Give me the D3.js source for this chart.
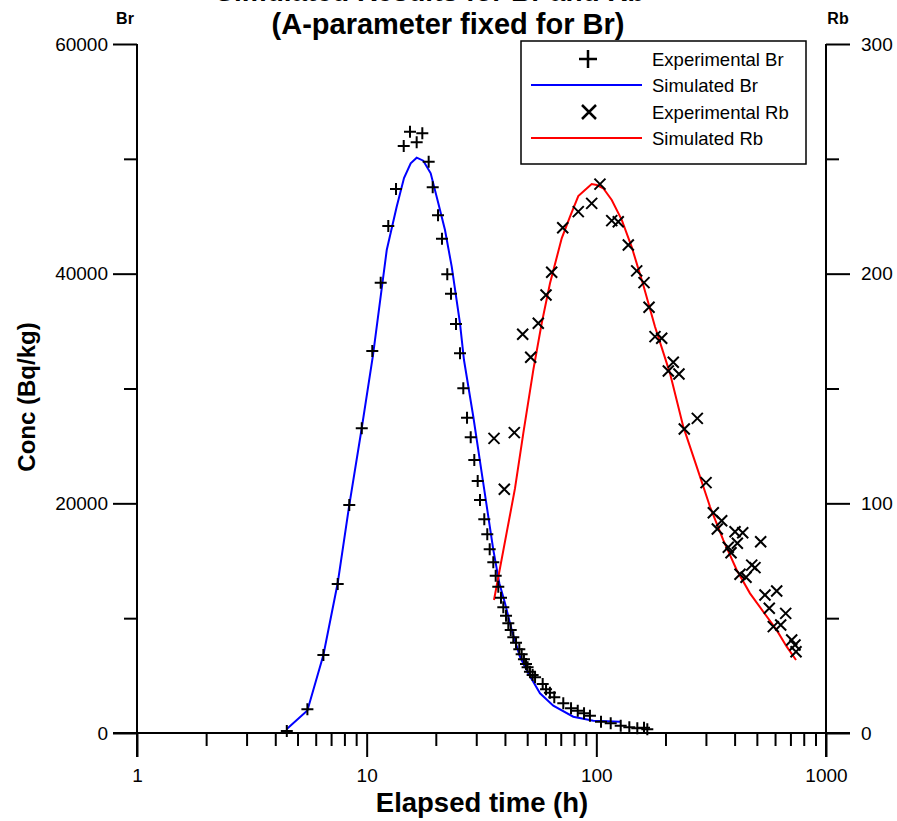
<!DOCTYPE html>
<html>
<head>
<meta charset="utf-8">
<script src="https://cdn.jsdelivr.net/npm/d3@7"></script>
<style>
  body { margin:0; background:#fff; }
  text { font-family: "Liberation Sans", Arial, sans-serif; }
</style>
</head>
<body>
<div id="chart"></div>
<script>
// experimental Br : time (h), conc (Bq/kg)
var brTime = [4.49,5.52,6.48,7.48,8.40,9.52,10.58,11.51,12.42,13.42,14.50,15.44,16.51,17.47,18.62,19.39,20.45,21.28,22.44,23.29,24.49,25.49,26.35,27.35,28.38,29.42,30.44,31.15,32.52,33.51,34.33,35.6,36.46,37.42,38.45,39.35,40.44,41.38,42.39,43.5,44.7,46.2,47.3,48.4,49.4,50.2,51.4,52.8,54.1,58.4,60.4,62.8,65.6,71.8,77.6,83.0,88.4,93.8,104.8,115.5,127.7,139.2,150.8,161.3,166.7];
var brConc = [170,2060,6790,12980,19850,26530,33270,39210,44150,47370,51120,52360,51440,52220,49750,47520,45080,43040,39940,38250,35620,33060,30020,27460,25750,23770,21940,20290,18610,17300,16000,14870,13700,12740,11780,10950,10220,9550,8970,8330,7860,7290,6850,6420,6010,5720,5340,5050,4850,4270,3810,3510,3110,2590,2150,1940,1720,1510,980,850,640,500,410,460,320];

// simulated Br
var brSimTime = [4.49,5.52,6.48,7.48,8.40,9.52,10.66,12.23,13.51,14.54,15.55,16.51,17.64,19.0,20.51,21.93,23.46,25.49,26.53,29.13,32.2,35.6,37.82,40.03,42.81,46.52,50.55,56.85,64.94,79.36,97.0,126.8];
var brSimConc = [350,1960,6790,13060,19850,26560,32920,42060,45830,48330,49610,50100,49840,48740,46130,43800,40610,35680,32480,27540,21740,15940,13040,11290,8970,6640,5200,3460,2380,1420,1070,980];

// experimental Rb : time (h), conc (Bq/kg)
var rbTime = [35.85,39.75,43.94,47.79,51.79,55.88,60.38,63.92,71.39,83.45,95.45,103.7,116.7,124.6,137.8,149.9,161.3,169.6,180.1,192.6,205.8,216.3,229.0,241.5,275.2,300.4,323.1,336.3,351.4,375.4,385.9,401.7,411.1,422.3,433.9,448.5,474.9,490.8,519.5,542.4,566.3,589.5,610.0,634.9,667.6,708.9,732.8,740.4];
var rbConc = [128.3,106.1,130.8,173.6,163.6,178.4,190.7,200.6,220.0,227.0,230.6,239.0,223.1,222.6,212.5,201.2,196.1,185.4,172.6,171.9,157.6,161.4,156.3,132.4,137.0,109.0,95.9,88.8,92.4,80.9,78.5,87.6,82.6,69.1,87.2,67.8,73.1,72.0,83.3,60.1,54.3,46.3,61.8,47.0,52.1,40.5,38.3,35.4];

// simulated Rb
var rbSimTime = [35.85,44.24,48.08,53.17,57.83,62.85,70.67,76.8,83.45,89.25,95.45,100.4,107.2,116.7,129.0,142.5,160.1,180.1,209.3,239.1,273.5,312.6,357.1,408.5,466.7,533.3,610.1,674.4,740.4];
var rbSimConc = [57.9,106.5,130.5,158.1,178.4,195.8,215.4,224.8,233.8,236.4,239.0,238.6,237.2,232.1,223.4,211.7,195.1,176.9,156.6,133.4,116.0,98.5,84.0,71.0,60.8,52.8,44.8,37.6,31.8];

var xMajor = [1, 10, 100, 1000];
var brTicks = [0, 20000, 40000, 60000];
var rbTicks = [0, 100, 200, 300];
var legendLabels = ["Experimental Br", "Simulated Br", "Experimental Rb", "Simulated Rb"];

var width = 897, height = 821;

var svg = d3.select("#chart").append("svg")
    .attr("width", width)
    .attr("height", height);

var x = d3.scaleLog().domain([1, 1000]).range([137, 826]);
var yBr = d3.scaleLinear().domain([0, 60000]).range([733, 44]);
var yRb = d3.scaleLinear().domain([0, 300]).range([733, 44]);

var xMinor = [];
[1, 10, 100].forEach(function(d){
  for (var k = 2; k < 10; k++) xMinor.push(d * k);
});

// axis lines
svg.append("line").attr("x1", 113).attr("x2", 850).attr("y1", 733).attr("y2", 733)
   .attr("stroke", "#000").attr("stroke-width", 2);
svg.append("line").attr("x1", 137).attr("x2", 137).attr("y1", 44).attr("y2", 757)
   .attr("stroke", "#000").attr("stroke-width", 2);
svg.append("line").attr("x1", 826).attr("x2", 826).attr("y1", 44).attr("y2", 757)
   .attr("stroke", "#000").attr("stroke-width", 2);

function styleAxis(g) {
  g.select(".domain").remove();
  g.selectAll(".tick line").attr("stroke", "#000").attr("stroke-width", 2);
  g.selectAll(".tick text").attr("fill", "#000").style("font-size", "19px")
    .style("font-family", "'Liberation Sans', Arial, sans-serif");
}

// x axis
svg.append("g").attr("transform", "translate(0,733)")
  .call(d3.axisBottom(x).tickValues(xMajor).tickSize(24).tickPadding(12).tickFormat(d3.format("d")))
  .call(styleAxis);
svg.append("g").attr("transform", "translate(0,733)")
  .call(d3.axisBottom(x).tickValues(xMinor).tickSize(13).tickFormat(""))
  .call(styleAxis);

// left axis (Br)
svg.append("g").attr("transform", "translate(137,0)")
  .call(d3.axisLeft(yBr).tickValues(brTicks).tickSize(24).tickPadding(5).tickFormat(d3.format("d")))
  .call(styleAxis);
svg.append("g").attr("transform", "translate(137,0)")
  .call(d3.axisLeft(yBr).tickValues([10000, 30000, 50000]).tickSize(13).tickFormat(""))
  .call(styleAxis);

// right axis (Rb)
svg.append("g").attr("transform", "translate(826,0)")
  .call(d3.axisRight(yRb).tickValues(rbTicks).tickSize(24).tickPadding(11).tickFormat(d3.format("d")))
  .call(styleAxis);
svg.append("g").attr("transform", "translate(826,0)")
  .call(d3.axisRight(yRb).tickValues([50, 150, 250]).tickSize(13).tickFormat(""))
  .call(styleAxis);

// titles (first line is cut by the top edge, as in the original)
svg.append("text").attr("x", 430).attr("y", 1).attr("text-anchor", "middle")
   .style("font-size", "28px").style("font-weight", "bold")
   .text("Simulated Results for Br and Rb");
svg.append("text").attr("x", 448).attr("y", 34).attr("text-anchor", "middle")
   .style("font-size", "29px").style("font-weight", "bold")
   .text("(A-parameter fixed for Br)");
svg.append("text").attr("x", 125).attr("y", 24).attr("text-anchor", "middle")
   .style("font-size", "16px").style("font-weight", "bold").text("Br");
svg.append("text").attr("x", 838).attr("y", 24).attr("text-anchor", "middle")
   .style("font-size", "16px").style("font-weight", "bold").text("Rb");
svg.append("text").attr("x", 482).attr("y", 812).attr("text-anchor", "middle")
   .style("font-size", "27.5px").style("font-weight", "bold").text("Elapsed time (h)");
svg.append("text").attr("transform", "translate(35,397) rotate(-90)").attr("text-anchor", "middle")
   .style("font-size", "24px").style("font-weight", "bold").text("Conc (Bq/kg)");

var plusPath = "M-6,0H6M0,-6V6";
var crossPath = "M-5.5,-5.5L5.5,5.5M-5.5,5.5L5.5,-5.5";

// simulated lines
var lineBr = d3.line().x(function(d){ return x(d[0]); }).y(function(d){ return yBr(d[1]); });
var lineRb = d3.line().x(function(d){ return x(d[0]); }).y(function(d){ return yRb(d[1]); });

svg.append("path").datum(d3.zip(brSimTime, brSimConc))
   .attr("d", lineBr).attr("fill", "none").attr("stroke", "#0000ff").attr("stroke-width", 2);
svg.append("path").datum(d3.zip(rbSimTime, rbSimConc))
   .attr("d", lineRb).attr("fill", "none").attr("stroke", "#ff0000").attr("stroke-width", 2);

// experimental points
svg.selectAll(".br-pt").data(d3.zip(brTime, brConc)).enter().append("path")
   .attr("class", "br-pt")
   .attr("transform", function(d){ return "translate(" + x(d[0]) + "," + yBr(d[1]) + ")"; })
   .attr("d", plusPath).attr("stroke", "#000").attr("stroke-width", 2).attr("fill", "none");
svg.selectAll(".rb-pt").data(d3.zip(rbTime, rbConc)).enter().append("path")
   .attr("class", "rb-pt")
   .attr("transform", function(d){ return "translate(" + x(d[0]) + "," + yRb(d[1]) + ")"; })
   .attr("d", crossPath).attr("stroke", "#000").attr("stroke-width", 2).attr("fill", "none");

// legend
var legend = svg.append("g");
legend.append("rect").attr("x", 521).attr("y", 41).attr("width", 285).attr("height", 123)
   .attr("fill", "#fff").attr("stroke", "#000").attr("stroke-width", 1.5);
var rowY = [59, 85, 112, 138];
legend.append("path").attr("transform", "translate(588," + rowY[0] + ")")
   .attr("d", "M-9,0H9M0,-9V9").attr("stroke", "#000").attr("stroke-width", 2.5);
legend.append("line").attr("x1", 531).attr("x2", 642).attr("y1", rowY[1]).attr("y2", rowY[1])
   .attr("stroke", "#0000ff").attr("stroke-width", 2);
legend.append("path").attr("transform", "translate(589," + rowY[2] + ")")
   .attr("d", "M-7,-7L7,7M-7,7L7,-7").attr("stroke", "#000").attr("stroke-width", 2.5);
legend.append("line").attr("x1", 531).attr("x2", 642).attr("y1", rowY[3]).attr("y2", rowY[3])
   .attr("stroke", "#ff0000").attr("stroke-width", 2);
legend.selectAll(".lt").data(legendLabels).enter().append("text")
   .attr("class", "lt")
   .attr("x", 652)
   .attr("y", function(d, i){ return rowY[i] + 6.5; })
   .style("font-size", "18.5px")
   .text(function(d){ return d; });
</script>
</body>
</html>
